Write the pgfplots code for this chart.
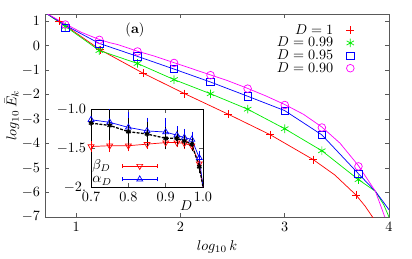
\documentclass[border=0pt]{standalone}
\usepackage{pgfplots}
\pgfplotsset{compat=1.18}
\definecolor{gpred}{RGB}{255,0,0}
\definecolor{gpgreen}{RGB}{0,235,0}
\definecolor{gpblue}{RGB}{0,0,255}
\definecolor{gpmag}{RGB}{255,0,255}
\begin{document}
\begin{tikzpicture}
\path (-31.7pt,-28.9pt) rectangle (258.4pt,152.8pt);
\begin{axis}[
  at={(0pt,0pt)}, anchor=south west, scale only axis,
  width=242.2pt, height=142.9pt,
  xmin=0.7, xmax=4, ymin=-7, ymax=1.3,
  xtick={1,2,3,4}, ytick={-7,-6,...,1},
  major tick length=2.8pt,
  axis line style={black!65, line width=0.6pt},
  every tick/.style={black!65, line width=0.5pt},
  xlabel={$log_{10}\,k$}, ylabel={$log_{10}\,\bar{E}_k$},
  xlabel style={at={(axis description cs:0.5,-0.148)}, anchor=center},
  ylabel style={at={(axis description cs:-0.096,0.5)}, anchor=center},
  legend plot pos=right, legend cell align=right,
  legend style={at={(axis description cs:0.900,0.955)}, anchor=north east,
    draw=none, fill=none, inner sep=0pt, column sep=8.4pt, row sep=-0.7pt,
    nodes={inner sep=0.8pt, text height=6.8pt, text depth=1.2pt}},
]
% D = 1
\addplot[gpred, line width=0.5pt, forget plot] coordinates {
 (0.70,1.36) (0.835,1.01) (1.229,-0.16) (1.642,-1.12) (2.037,-1.95) (2.455,-2.79)
 (2.863,-3.64) (3.272,-4.65) (3.48,-5.28) (3.686,-6.11) (3.77,-6.55) (3.85,-7.05)};
\addplot[gpred, only marks, mark=+, mark size=2.8pt, line width=0.5pt] coordinates {
 (0.835,1.01) (1.229,-0.16) (1.642,-1.12) (2.037,-1.95) (2.455,-2.79)
 (2.863,-3.64) (3.272,-4.65) (3.686,-6.11)};
\addlegendentry{$D=1$}
% D = 0.99
\addplot[gpgreen, line width=0.5pt, forget plot] coordinates {
 (0.70,1.36) (0.894,0.80) (1.221,-0.19) (1.587,-0.72) (1.938,-1.38) (2.288,-1.96)
 (2.644,-2.59) (3.0,-3.39) (3.356,-4.29) (3.707,-5.47) (3.87,-5.95) (3.95,-6.5) (4.0,-7.0)};
\addplot[gpgreen, only marks, mark=asterisk, mark size=3pt, line width=0.5pt] coordinates {
 (0.894,0.79) (1.221,-0.19) (1.587,-0.72) (1.938,-1.38) (2.288,-1.96)
 (2.644,-2.59) (3.0,-3.39) (3.356,-4.29) (3.707,-5.47)};
\addlegendentry{$D=0.99$}
% D = 0.95
\addplot[gpblue, line width=0.5pt, forget plot] coordinates {
 (0.70,1.36) (0.894,0.84) (1.221,0.10) (1.587,-0.43) (1.938,-0.95) (2.288,-1.48)
 (2.644,-2.06) (3.0,-2.65) (3.356,-3.64) (3.707,-5.23) (3.87,-5.95) (4.0,-6.70)};
\addplot[gpblue, only marks, mark=square, mark size=2.6pt, line width=0.5pt] coordinates {
 (0.894,0.74) (1.221,0.08) (1.587,-0.43) (1.938,-0.95) (2.288,-1.48)
 (2.644,-2.06) (3.0,-2.65) (3.356,-3.64) (3.707,-5.23)};
\addlegendentry{$D=0.95$}
% D = 0.90
\addplot[gpmag, line width=0.5pt, forget plot] coordinates {
 (0.70,1.36) (0.894,0.90) (1.05,0.55) (1.221,0.26) (1.32,0.13) (1.4,0.05) (1.587,-0.22)
 (1.75,-0.42) (1.938,-0.69) (2.1,-0.92) (2.288,-1.19) (2.45,-1.42) (2.644,-1.74)
 (2.82,-2.05) (3.0,-2.40) (3.18,-2.80) (3.356,-3.32) (3.53,-3.98) (3.707,-4.90)
 (3.87,-5.95) (3.96,-7.0)};
\addplot[gpmag, only marks, mark=o, mark size=2.7pt, line width=0.5pt] coordinates {
 (0.894,0.87) (1.221,0.245) (1.587,-0.23) (1.938,-0.70) (2.288,-1.20)
 (2.644,-1.75) (3.0,-2.42) (3.356,-3.34) (3.707,-4.93)};
\addlegendentry{$D=0.90$}
\node at (axis cs:1.563,0.656) {(\textbf{a})};
\end{axis}
\begin{axis}[
  at={(32.4pt,21.1pt)}, anchor=south west, scale only axis,
  width=78.85pt, height=54.9pt,
  xmin=0.7, xmax=1.0, ymin=-2, ymax=-1,
  axis background/.style={fill=white},
  xtick={0.7,0.8,0.9,1.0}, xticklabels={0.7,0.8,0.9,1.0},
  ytick={-2,-1.5,-1}, yticklabels={$-2.$,$-1.5$,$-1.0$},
  major tick length=2.5pt,
  axis line style={black, line width=0.5pt},
  every tick/.style={black!65, line width=0.4pt},
  xlabel={$D$},
  xlabel style={at={(axis description cs:0.85,-0.245)}, anchor=center},
  legend cell align=left, legend plot pos=right,
  legend style={at={(axis description cs:0.0,0.005)}, anchor=south west,
    draw=none, fill=none, inner sep=0pt, column sep=6.5pt, row sep=-0.7pt,
    nodes={inner sep=0.8pt, text height=6.8pt, text depth=1.6pt}},
  legend image code/.code={
    \draw[#1, mark=none] (0cm,0cm) -- (0.85cm,0cm);
    \draw[#1, mark=none, solid] (0cm,-1.4pt) -- (0cm,1.4pt) (0.85cm,-1.4pt) -- (0.85cm,1.4pt);
    \draw[#1, only marks] plot coordinates {(0.425cm,0cm)};
  },
]
% beta_D
\addplot[gpred, line width=0.5pt, mark=triangle, mark options={rotate=180, solid}, mark size=2.4pt,
  error bars/.cd, y dir=both, y explicit,
  error bar style={gpred, line width=0.4pt},
  error mark options={gpred, mark size=1.2pt, line width=0.4pt}]
coordinates {
 (0.70,-1.48) +- (0,0.05)
 (0.75,-1.47) +- (0,0.06)
 (0.80,-1.47) +- (0,0.05)
 (0.85,-1.45) +- (0,0.04)
 (0.90,-1.43) +- (0,0.04)
 (0.93,-1.43) +- (0,0.04)
 (0.95,-1.44) +- (0,0.05)
 (0.97,-1.47) +- (0,0.05)
 (0.99,-1.70) +- (0,0.05)};
\addlegendentry{$\beta_D$}
% alpha_D
\addplot[gpblue, line width=0.5pt, mark=triangle, mark options={solid}, mark size=2.4pt,
  error bars/.cd, y dir=both, y explicit,
  error bar style={gpblue, line width=0.4pt},
  error mark options={gpblue, mark size=1.2pt, line width=0.4pt}]
coordinates {
 (0.70,-1.137) +- (0,0.08)
 (0.75,-1.17) +- (0,0.17)
 (0.80,-1.235) +- (0,0.17)
 (0.85,-1.28) +- (0,0.15)
 (0.90,-1.295) +- (0,0.155)
 (0.93,-1.335) +- (0,0.09)
 (0.95,-1.365) +- (0,0.09)
 (0.97,-1.39) +- (0,0.08)
 (0.99,-1.625) +- (0,0.07)};
\addlegendentry{$\alpha_D$}
% black
\addplot[black, line width=0.9pt, dash pattern=on 2pt off 1pt, mark=asterisk, mark options={solid}, mark size=1.8pt, forget plot,
  error bars/.cd, y dir=both, y explicit,
  error bar style={black, solid, line width=0.4pt},
  error mark options={black, mark size=1.2pt, line width=0.4pt}]
coordinates {
 (0.70,-1.18) +- (0,0.15)
 (0.75,-1.21) +- (0,0.17)
 (0.80,-1.29) +- (0,0.15)
 (0.85,-1.32) +- (0,0.13)
 (0.90,-1.375) +- (0,0.12)
 (0.93,-1.375) +- (0,0.08)
 (0.95,-1.41) +- (0,0.07)
 (0.97,-1.45) +- (0,0.07)
 (0.99,-1.74) +- (0,0.06)};
\addplot[gpred, line width=0.5pt, forget plot] coordinates {(0.99,-1.70) (1.0,-2.0)};
\addplot[gpblue, line width=0.5pt, forget plot] coordinates {(0.99,-1.625) (1.0,-2.0)};
\addplot[black, line width=0.9pt, dash pattern=on 2pt off 1pt, forget plot] coordinates {(0.99,-1.74) (1.0,-2.0)};
\end{axis}
\end{tikzpicture}
\end{document}
